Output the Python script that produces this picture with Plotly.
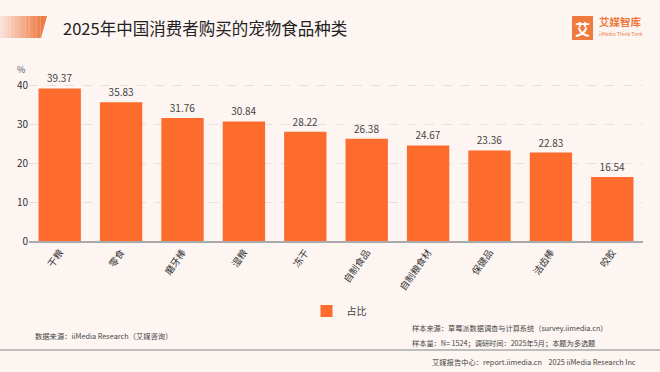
import plotly.graph_objects as go

categories = ["干粮", "零食", "磨牙棒", "湿粮", "冻干", "自制食品", "自制粮食材", "保健品", "洁齿棒", "咬胶"]
values = [39.37, 35.83, 31.76, 30.84, 28.22, 26.38, 24.67, 23.36, 22.83, 16.54]
value_labels = ["39.37", "35.83", "31.76", "30.84", "28.22", "26.38", "24.67", "23.36", "22.83", "16.54"]
y_ticks = [0, 10, 20, 30, 40]
series_name = "占比"

W, H = 660, 372
FONT = "Noto Sans CJK SC, Noto Sans, sans-serif"
BAR = "#FD6C2C"


def px(x):
    return x / W


def py(y):
    return 1 - y / H


fig = go.Figure()
fig.add_trace(go.Bar(
    x=categories, y=values, name=series_name,
    marker=dict(color=BAR, line=dict(width=0)),
    text=value_labels, textposition="outside",
    textfont=dict(size=10, color="#444444", family=FONT),
    cliponaxis=False,
))

shapes = []
# decorative gradient parallelogram at top-left
n = 12
for i in range(n):
    x0 = 44 * i / n
    x1 = 44 * (i + 1) / n
    op = 0.08 + 0.92 * (i + 1) / n
    if i < n - 1:
        path = f"M {px(x0)},{py(16)} L {px(x1)},{py(16)} L {px(x1)},{py(38)} L {px(x0)},{py(38)} Z"
    else:
        path = f"M {px(x0)},{py(16)} L {px(47)},{py(16)} L {px(41)},{py(38)} L {px(x0)},{py(38)} Z"
    shapes.append(dict(type="path", xref="paper", yref="paper", path=path,
                       fillcolor="#EE7A45", opacity=op, line=dict(width=0), layer="below"))
# logo square
shapes.append(dict(type="rect", xref="paper", yref="paper",
                   x0=px(572), x1=px(593), y0=py(40), y1=py(16),
                   fillcolor="#F07A3E", line=dict(width=0)))
# footer separator
shapes.append(dict(type="line", xref="paper", yref="paper",
                   x0=0, x1=1, y0=py(350), y1=py(350),
                   line=dict(color="#BDBDBD", width=2)))

annotations = [
    dict(text="2025年中国消费者购买的宠物食品种类", x=px(61), y=py(28), xref="paper", yref="paper",
         xanchor="left", yanchor="middle", showarrow=False,
         font=dict(size=16.5, color="#222222", family=FONT)),
    dict(text="<b>艾</b>", x=px(582.5), y=py(28), xref="paper", yref="paper",
         xanchor="center", yanchor="middle", showarrow=False,
         font=dict(size=15, color="white", family=FONT)),
    dict(text="<b>艾媒智库</b>", x=px(597), y=py(22), xref="paper", yref="paper",
         xanchor="left", yanchor="middle", showarrow=False,
         font=dict(size=10.5, color="#F07A3E", family=FONT)),
    dict(text="iiMedia Think Tank", x=px(597), y=py(33), xref="paper", yref="paper",
         xanchor="left", yanchor="middle", showarrow=False,
         font=dict(size=5, color="#F07A3E", family=FONT)),
    dict(text="%", x=px(21), y=py(69), xref="paper", yref="paper",
         xanchor="center", yanchor="middle", showarrow=False,
         font=dict(size=9, color="#555555", family=FONT)),
    dict(text="数据来源：iiMedia Research（艾媒咨询）", x=px(33), y=py(336), xref="paper", yref="paper",
         xanchor="left", yanchor="middle", showarrow=False,
         font=dict(size=7.3, color="#444444", family=FONT)),
    dict(text="样本来源：草莓派数据调查与计算系统（survey.iimedia.cn）", x=px(410), y=py(328), xref="paper", yref="paper",
         xanchor="left", yanchor="middle", showarrow=False,
         font=dict(size=7.2, color="#444444", family=FONT)),
    dict(text="样本量：N= 1524；调研时间：2025年5月；本题为多选题", x=px(410), y=py(343), xref="paper", yref="paper",
         xanchor="left", yanchor="middle", showarrow=False,
         font=dict(size=7.2, color="#444444", family=FONT)),
    dict(text="艾媒报告中心：report.iimedia.cn    2025 iiMedia Research Inc", x=px(638), y=py(362), xref="paper", yref="paper",
         xanchor="right", yanchor="middle", showarrow=False,
         font=dict(size=7.3, color="#444444", family=FONT)),
]

fig.update_layout(
    width=W, height=H,
    margin=dict(l=0, r=0, t=0, b=0, autoexpand=False),
    paper_bgcolor="#FCF5F2", plot_bgcolor="rgba(0,0,0,0)",
    bargap=0.31,
    showlegend=True,
    legend=dict(orientation="h", x=px(339), xanchor="center", y=py(311), yanchor="middle",
                font=dict(size=10, color="#444444", family=FONT),
                bgcolor="rgba(0,0,0,0)"),
    xaxis=dict(domain=[px(29), px(643)], tickangle=-55, showgrid=False, automargin=False,
               showline=True, linecolor="#AAAAAA", linewidth=2, ticks="",
               tickfont=dict(size=9.5, color="#333333", family=FONT), fixedrange=True),
    yaxis=dict(domain=[py(241), py(66.6)], range=[0, 45], tickvals=y_ticks, automargin=False,
               showgrid=True, gridcolor="#E6E0DD", griddash="dash", gridwidth=1,
               zeroline=False, showline=False, ticks="",
               tickfont=dict(size=10, color="#333333", family=FONT), fixedrange=True),
    shapes=shapes,
    annotations=annotations,
)

fig.write_html("out.html", config={"displayModeBar": False},
               post_script="document.body.style.margin='0';document.body.style.overflow='hidden';")
